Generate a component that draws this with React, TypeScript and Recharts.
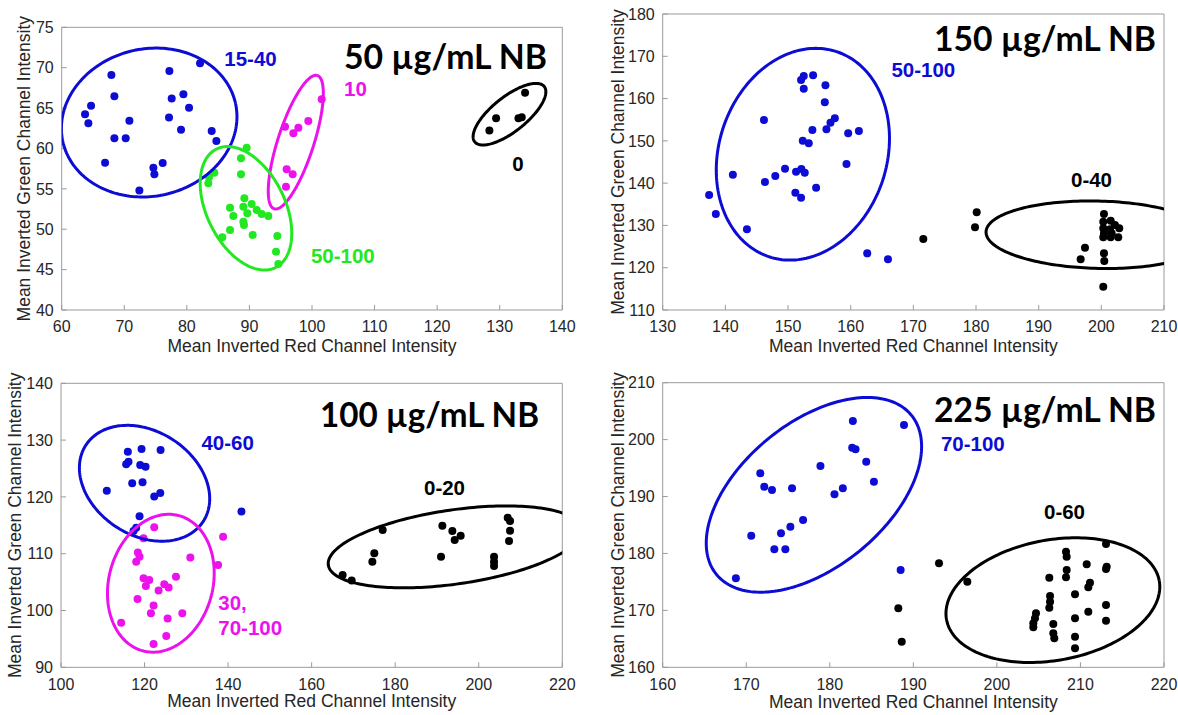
import React from 'react';
import { ScatterChart, Scatter, XAxis, YAxis } from 'recharts';

type Pt = { x: number; y: number };
type Ell = { cx: number; cy: number; ax: number; ay: number; bx: number; by: number };

const toPts = (a: number[][]): Pt[] => a.map(([x, y]) => ({ x, y }));

// ---------- Panel 1 : 50 µg/mL NB ----------
const p1XTicks = [60, 70, 80, 90, 100, 110, 120, 130, 140];
const p1YTicks = [40, 45, 50, 55, 60, 65, 70, 75];
const p1Blue = toPts([[63.73,64.23],[64.26,63.11],[64.69,65.30],[67.94,69.10],[68.42,66.46],[68.42,61.26],[66.93,58.24],[70.23,61.26],[70.82,63.44],[72.41,54.78],[74.65,57.62],[74.81,56.80],[76.14,58.20],[77.21,69.59],[77.15,63.82],[77.58,66.17],[79.45,66.70],[79.07,62.33],[80.35,65.05],[82.11,70.54],[83.97,62.16],[84.72,60.93]]);
const p1Green = toPts([[89.56,60.10],[88.65,58.78],[84.39,57.00],[83.54,56.43],[83.43,55.68],[88.65,56.80],[89.19,53.83],[89.03,52.79],[90.36,53.12],[91.16,52.38],[91.96,51.89],[93.02,51.64],[86.90,52.67],[87.43,51.64],[89.66,51.97],[89.03,50.94],[89.13,50.52],[86.90,49.90],[85.67,49.00],[90.52,49.29],[94.46,49.16],[94.25,47.22],[94.62,45.70]]);
const p1Magenta = toPts([[101.55,66.08],[99.41,63.40],[97.82,62.57],[97.02,61.87],[95.69,62.70],[95.95,57.42],[96.91,56.80],[95.84,55.27]]);
const p1Black = toPts([[134.05,66.91],[129.42,63.73],[128.35,62.21],[132.99,63.73],[133.52,63.86]]);
const p1Ellipses: { e: Ell; c: string }[] = [
  { e: { cx: 73.98, cy: 63.21, ax: 13.79, ay: 2.39, bx: 2.57, by: -8.9 }, c: 'blue' },
  { e: { cx: 97.41, cy: 60.78, ax: 3.45, ay: 8.25, bx: 2.73, by: -0.69 }, c: 'magenta' },
  { e: { cx: 89.45, cy: 52.59, ax: 4.73, ay: -7.33, bx: 5.58, by: 2.17 }, c: 'green' },
  { e: { cx: 131.56, cy: 64.24, ax: 5.55, ay: 3.43, bx: 1.73, by: -1.67 }, c: 'black' },
];

// ---------- Panel 2 : 150 µg/mL NB ----------
const p2XTicks = [130, 140, 150, 160, 170, 180, 190, 200, 210];
const p2YTicks = [110, 120, 130, 140, 150, 160, 170, 180];
const p2Blue = toPts([[137.41,137.20],[138.48,132.70],[141.20,142.01],[143.44,129.08],[146.16,154.93],[146.32,140.27],[147.97,141.69],[149.52,143.42],[151.28,142.71],[152.13,143.35],[152.67,142.48],[151.17,137.75],[152.08,136.57],[152.35,150.05],[153.31,149.41],[153.89,152.57],[154.48,138.93],[152.08,164.39],[152.51,165.34],[152.51,162.34],[154.00,165.50],[155.97,163.13],[155.87,159.11],[156.13,152.73],[156.77,154.30],[157.47,155.33],[159.60,151.78],[161.31,152.33],[159.33,144.53],[162.64,123.40],[165.95,121.98]]);
const p2Black = toPts([[200.42,132.70],[200.31,130.88],[201.49,131.12],[202.17,130.10],[202.86,129.32],[200.31,129.32],[201.38,129.08],[200.42,128.14],[201.65,128.14],[200.31,127.19],[201.49,127.19],[202.70,127.19],[197.39,124.73],[196.70,121.98],[200.42,123.41],[200.47,121.59],[200.31,115.51],[171.59,126.79],[180.11,133.10],[179.84,129.56]]);
const p2Ellipses: { e: Ell; c: string }[] = [
  { e: { cx: 152.37, cy: 146.84, ax: 5.38, ay: 24.26, bx: 12.73, by: -6.2 }, c: 'blue' },
  { e: { cx: 199.5, cy: 127.8, ax: 17.9, ay: -0.6, bx: 0, by: -7.97 }, c: 'black' },
];

// ---------- Panel 3 : 100 µg/mL NB ----------
const p3XTicks = [100, 120, 140, 160, 180, 200, 220];
const p3YTicks = [90, 100, 110, 120, 130, 140];
const p3Blue = toPts([[116.00,127.97],[116.16,126.21],[115.60,125.74],[119.28,128.44],[118.96,125.62],[120.24,125.33],[123.84,128.26],[117.04,122.39],[119.52,122.57],[110.96,121.10],[122.32,120.05],[123.76,120.69],[118.80,116.58],[118.00,114.59],[117.36,114.00],[143.20,117.41]]);
const p3Magenta = toPts([[122.32,114.65],[119.76,112.71],[118.40,110.19],[118.80,109.48],[118.00,108.60],[130.96,109.31],[137.60,108.02],[138.80,113.00],[119.76,105.67],[121.12,105.38],[120.32,104.32],[127.52,105.96],[124.72,104.61],[125.76,104.03],[123.36,103.50],[118.32,102.03],[122.16,100.86],[121.52,99.51],[114.40,97.86],[125.52,98.57],[129.04,99.51],[125.20,95.52],[122.16,94.11]]);
const p3Black = toPts([[167.42,106.26],[169.58,105.26],[174.53,108.60],[175.00,110.07],[177.00,114.18],[190.97,109.48],[191.29,114.94],[193.68,114.00],[194.24,112.42],[195.67,113.18],[203.66,109.48],[203.66,108.60],[203.66,107.84],[206.93,116.35],[207.49,115.76],[207.49,114.06],[207.25,112.24]]);
const p3Ellipses: { e: Ell; c: string }[] = [
  { e: { cx: 120.0, cy: 122.4, ax: 14.05, ay: -6.71, bx: 6.77, by: 7.68 }, c: 'blue' },
  { e: { cx: 123.9, cy: 104.8, ax: 4.33, ay: 11.9, bx: 12.02, by: -2.38 }, c: 'magenta' },
  { e: { cx: 194.3, cy: 111.2, ax: 30.31, ay: 3.2, bx: 1.26, by: -6.46 }, c: 'black' },
];

// ---------- Panel 4 : 225 µg/mL NB ----------
const p4XTicks = [160, 170, 180, 190, 200, 210, 220];
const p4YTicks = [160, 170, 180, 190, 200, 210];
const p4Blue = toPts([[168.76,175.63],[170.60,183.13],[171.68,194.07],[172.16,191.73],[173.08,191.15],[175.48,191.44],[173.36,180.73],[174.68,180.73],[174.16,183.54],[175.28,184.71],[176.80,185.88],[178.88,195.36],[180.56,190.39],[181.56,191.44],[182.68,198.58],[183.08,198.29],[182.76,203.27],[184.36,196.12],[185.28,192.61],[188.88,202.56],[188.48,177.10]]);
const p4Black = toPts([[213.06,181.65],[208.27,180.30],[208.35,179.42],[210.75,178.09],[213.14,177.67],[213.06,177.26],[208.35,177.09],[208.27,175.81],[206.27,175.74],[211.14,174.86],[210.94,174.05],[209.35,172.82],[206.36,172.52],[206.36,171.52],[206.27,170.47],[213.06,170.94],[210.94,169.76],[204.68,169.48],[204.56,168.61],[204.36,167.73],[204.36,167.03],[206.75,167.60],[206.75,165.97],[206.87,165.09],[209.35,168.61],[213.06,168.18],[209.35,165.37],[209.35,163.34],[188.20,170.36],[188.61,164.50],[193.07,178.26],[196.46,175.03]]);
const p4Ellipses: { e: Ell; c: string }[] = [
  { e: { cx: 178.1, cy: 190.3, ax: 11.66, ay: 14.0, bx: 5.49, by: -9.83 }, c: 'blue' },
  { e: { cx: 206.7, cy: 171.8, ax: 12.73, ay: 3.42, bx: 1.3, by: -10.41 }, c: 'black' },
];

const COLORS: Record<string, string> = {
  blue: '#0c0cd4',
  magenta: '#ec12ec',
  green: '#22e822',
  black: '#000000',
};

const ellipsePts = (e: Ell): Pt[] => {
  const out: Pt[] = [];
  const n = 200;
  for (let i = 0; i <= n; i++) {
    const t = (i / n) * Math.PI * 2;
    out.push({
      x: e.cx + Math.cos(t) * e.ax + Math.sin(t) * e.bx,
      y: e.cy + Math.cos(t) * e.ay + Math.sin(t) * e.by,
    });
  }
  return out;
};

const FONT = "'Liberation Sans', Arial, Helvetica, sans-serif";
const AXIS_GRAY = '#9a9a9a';

const makeDot = (color: string) => (props: any) => (
  <circle cx={props.cx} cy={props.cy} r={4} fill={color} />
);
const noShape = () => <g />;

interface PanelProps {
  left: number;
  top: number;
  width: number;
  height: number;
  plotLeft: number;
  plotRight: number;
  plotTop: number;
  plotBottom: number;
  xDomain: [number, number];
  yDomain: [number, number];
  xTicks: number[];
  yTicks: number[];
  series: { data: Pt[]; c: string }[];
  ellipses: { e: Ell; c: string }[];
}

function Panel(p: PanelProps) {
  const yAxisW = p.plotLeft;
  const xAxisH = p.height - p.plotBottom;
  const margin = {
    top: p.plotTop - 1,
    right: p.width - p.plotRight - 1,
    bottom: 0,
    left: 0,
  };
  return (
    <div style={{ position: 'absolute', left: p.left, top: p.top, width: p.width, height: p.height }}>
      <ScatterChart width={p.width} height={p.height} margin={margin}>
        <XAxis
          type="number"
          dataKey="x"
          domain={p.xDomain}
          ticks={p.xTicks}
          interval={0}
          allowDataOverflow
          height={xAxisH}
          tickSize={-5}
          tickMargin={16}
          axisLine={{ stroke: AXIS_GRAY }}
          tickLine={{ stroke: AXIS_GRAY }}
          tick={{ fill: '#262626', fontSize: 16, fontFamily: FONT }}
        />
        <XAxis
          xAxisId="top"
          orientation="top"
          type="number"
          dataKey="x"
          domain={p.xDomain}
          ticks={p.xTicks}
          interval={0}
          allowDataOverflow
          height={1}
          tickSize={-5}
          axisLine={{ stroke: AXIS_GRAY }}
          tickLine={{ stroke: AXIS_GRAY }}
          tick={false}
        />
        <YAxis
          type="number"
          dataKey="y"
          domain={p.yDomain}
          ticks={p.yTicks}
          interval={0}
          allowDataOverflow
          width={yAxisW}
          tickSize={-5}
          tickMargin={13}
          axisLine={{ stroke: AXIS_GRAY }}
          tickLine={{ stroke: AXIS_GRAY }}
          tick={{ fill: '#262626', fontSize: 16, fontFamily: FONT }}
        />
        <YAxis
          yAxisId="right"
          orientation="right"
          type="number"
          dataKey="y"
          domain={p.yDomain}
          ticks={p.yTicks}
          interval={0}
          allowDataOverflow
          width={1}
          tickSize={-5}
          axisLine={{ stroke: AXIS_GRAY }}
          tickLine={{ stroke: AXIS_GRAY }}
          tick={false}
        />
        {p.series.map((s, i) => (
          <Scatter
            key={'s' + i}
            data={s.data}
            fill={COLORS[s.c]}
            shape={makeDot(COLORS[s.c])}
            isAnimationActive={false}
          />
        ))}
        {p.ellipses.map((el, i) => (
          <Scatter
            key={'e' + i}
            data={ellipsePts(el.e)}
            fill={COLORS[el.c]}
            line={{ stroke: COLORS[el.c], strokeWidth: 3, fill: 'none' }}
            lineJointType="linear"
            shape={noShape}
            isAnimationActive={false}
          />
        ))}
      </ScatterChart>
    </div>
  );
}

const axisLabelStyle: React.CSSProperties = { fontFamily: FONT, fontSize: 17.5, fill: '#262626' };
const clusterStyle = (c: string): React.CSSProperties => ({
  fontFamily: FONT,
  fontSize: 20.5,
  fontWeight: 700,
  fill: COLORS[c],
});
const titleStyle: React.CSSProperties = {
  fontFamily: "Lato, 'Open Sans', sans-serif",
  fontSize: 35,
  fontWeight: 700,
  fill: '#000',
};

const XLABEL = 'Mean Inverted Red Channel Intensity';
const YLABEL = 'Mean Inverted Green Channel Intensity';

export default function App() {
  return (
    <div style={{ position: 'absolute', left: 0, top: 0, width: 1178, height: 715, background: '#fff', overflow: 'hidden' }}>
      <Panel
        left={0} top={0} width={590} height={360}
        plotLeft={61.7} plotRight={562.3} plotTop={27.3} plotBottom={310}
        xDomain={[60, 140]} yDomain={[40, 75]} xTicks={p1XTicks} yTicks={p1YTicks}
        series={[{ data: p1Blue, c: 'blue' }, { data: p1Green, c: 'green' }, { data: p1Magenta, c: 'magenta' }, { data: p1Black, c: 'black' }]}
        ellipses={p1Ellipses}
      />
      <Panel
        left={590} top={0} width={588} height={360}
        plotLeft={72.7} plotRight={574} plotTop={14} plotBottom={310}
        xDomain={[130, 210]} yDomain={[110, 180]} xTicks={p2XTicks} yTicks={p2YTicks}
        series={[{ data: p2Blue, c: 'blue' }, { data: p2Black, c: 'black' }]}
        ellipses={p2Ellipses}
      />
      <Panel
        left={0} top={360} width={590} height={355}
        plotLeft={61} plotRight={562.3} plotTop={23.3} plotBottom={307.3}
        xDomain={[100, 220]} yDomain={[90, 140]} xTicks={p3XTicks} yTicks={p3YTicks}
        series={[{ data: p3Blue, c: 'blue' }, { data: p3Magenta, c: 'magenta' }, { data: p3Black, c: 'black' }]}
        ellipses={p3Ellipses}
      />
      <Panel
        left={590} top={360} width={588} height={355}
        plotLeft={72.7} plotRight={574} plotTop={22.7} plotBottom={307.3}
        xDomain={[160, 220]} yDomain={[160, 210]} xTicks={p4XTicks} yTicks={p4YTicks}
        series={[{ data: p4Blue, c: 'blue' }, { data: p4Black, c: 'black' }]}
        ellipses={p4Ellipses}
      />
      <svg width={1178} height={715} style={{ position: 'absolute', left: 0, top: 0, pointerEvents: 'none' }}>
        {/* axis labels */}
        <text x={312} y={351.5} textAnchor="middle" style={axisLabelStyle}>{XLABEL}</text>
        <text x={913.4} y={352} textAnchor="middle" style={axisLabelStyle}>{XLABEL}</text>
        <text x={311.7} y={706.5} textAnchor="middle" style={axisLabelStyle}>{XLABEL}</text>
        <text x={913.4} y={708} textAnchor="middle" style={axisLabelStyle}>{XLABEL}</text>
        <text x={30} y={168.7} textAnchor="middle" transform="rotate(-90 30 168.7)" style={axisLabelStyle}>{YLABEL}</text>
        <text x={623.5} y={162} textAnchor="middle" transform="rotate(-90 623.5 162)" style={axisLabelStyle}>{YLABEL}</text>
        <text x={21} y={525.3} textAnchor="middle" transform="rotate(-90 21 525.3)" style={axisLabelStyle}>{YLABEL}</text>
        <text x={623.5} y={525} textAnchor="middle" transform="rotate(-90 623.5 525)" style={axisLabelStyle}>{YLABEL}</text>

        {/* titles */}
        <text x={344} y={68.5} textLength={203} lengthAdjust="spacingAndGlyphs" style={titleStyle}>50 µg/mL NB</text>
        <text x={934} y={50.5} textLength={222} lengthAdjust="spacingAndGlyphs" style={titleStyle}>150 µg/mL NB</text>
        <text x={320} y={426.7} textLength={219} lengthAdjust="spacingAndGlyphs" style={titleStyle}>100 µg/mL NB</text>
        <text x={934} y={421.7} textLength={222} lengthAdjust="spacingAndGlyphs" style={titleStyle}>225 µg/mL NB</text>

        {/* cluster labels */}
        <text x={250.5} y={66} textAnchor="middle" style={clusterStyle('blue')}>15-40</text>
        <text x={355.5} y={96} textAnchor="middle" style={clusterStyle('magenta')}>10</text>
        <text x={518} y={170.7} textAnchor="middle" style={clusterStyle('black')}>0</text>
        <text x={342.8} y={262.7} textAnchor="middle" style={clusterStyle('green')}>50-100</text>

        <text x={923.3} y={76.7} textAnchor="middle" style={clusterStyle('blue')}>50-100</text>
        <text x={1091.5} y={186.7} textAnchor="middle" style={clusterStyle('black')}>0-40</text>

        <text x={227.7} y={450} textAnchor="middle" style={clusterStyle('blue')}>40-60</text>
        <text x={218.3} y={610} textAnchor="start" style={clusterStyle('magenta')}>30,</text>
        <text x={218.3} y={635} textAnchor="start" style={clusterStyle('magenta')}>70-100</text>
        <text x={444.5} y={495} textAnchor="middle" style={clusterStyle('black')}>0-20</text>

        <text x={972.8} y={450.7} textAnchor="middle" style={clusterStyle('blue')}>70-100</text>
        <text x={1064.5} y={519.3} textAnchor="middle" style={clusterStyle('black')}>0-60</text>
      </svg>
    </div>
  );
}
